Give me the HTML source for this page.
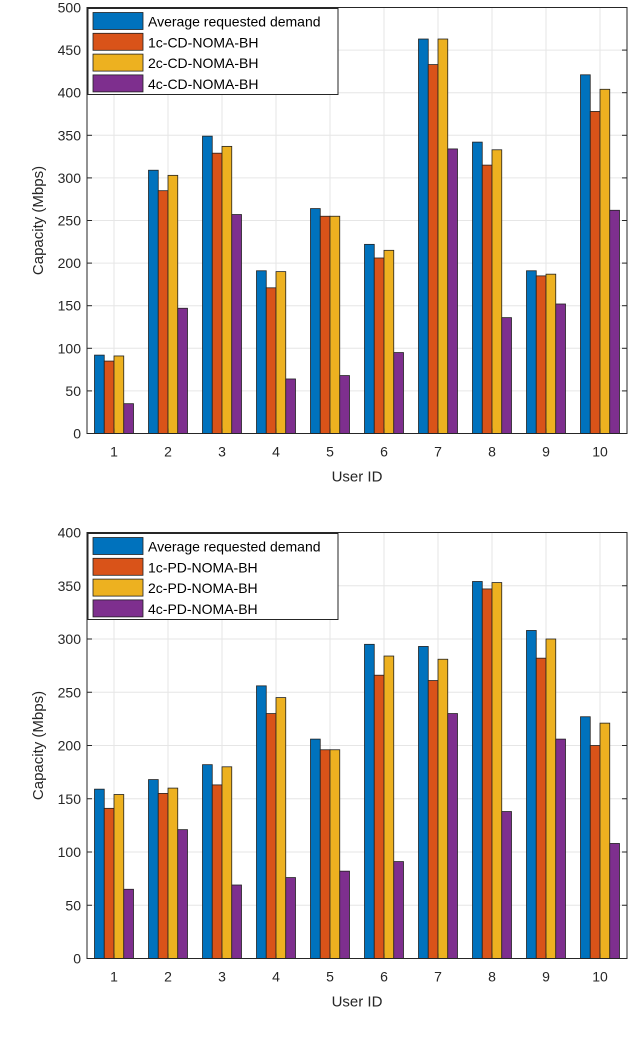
<!DOCTYPE html>
<html><head><meta charset="utf-8"><style>
body{margin:0;background:#fff;width:630px;height:1042px;overflow:hidden}
svg{display:block;font-family:"Liberation Sans",Arial,sans-serif}
</style></head><body>
<svg id="svg" width="630" height="1042"></svg>
<script>
const categories=["1","2","3","4","5","6","7","8","9","10"];
const seriesNamesTop=["Average requested demand","1c-CD-NOMA-BH","2c-CD-NOMA-BH","4c-CD-NOMA-BH"];
const seriesNamesBot=["Average requested demand","1c-PD-NOMA-BH","2c-PD-NOMA-BH","4c-PD-NOMA-BH"];
const topAvg=[92,309,349,191,264,222,463,342,191,421];
const top1c=[85,285,329,171,255,206,433,315,185,378];
const top2c=[91,303,337,190,255,215,463,333,187,404];
const top4c=[35,147,257,64,68,95,334,136,152,262];
const botAvg=[159,168,182,256,206,295,293,354,308,227];
const bot1c=[141,155,163,230,196,266,261,347,282,200];
const bot2c=[154,160,180,245,196,284,281,353,300,221];
const bot4c=[65,121,69,76,82,91,230,138,206,108];
const topTicks=[0,50,100,150,200,250,300,350,400,450,500];
const botTicks=[0,50,100,150,200,250,300,350,400];
const colors=["#0072BD","#D95319","#EDB120","#7E2F8E"];
const NS="http://www.w3.org/2000/svg";
const svg=document.getElementById('svg');
function mk(t,a,p){const e=document.createElementNS(NS,t);for(const k in a)e.setAttribute(k,a[k]);(p||svg).appendChild(e);return e;}
function chart(y0,y1,ymax,ticks,series,names,id){
  const L=87,R=627;
  const g=mk('g',{});
  
  
  const xs=i=>L+(i+0.5)*(R-L)/categories.length;
  const ys=v=>y1-(v/ymax)*(y1-y0);
  // grid
  ticks.forEach(t=>{const l=mk('line',{x1:L,x2:R,y1:ys(t),y2:ys(t),stroke:'#e6e6e6','stroke-width':1},g);
    });
  categories.forEach((c,i)=>{const l=mk('line',{x1:xs(i),x2:xs(i),y1:y0,y2:y1,stroke:'#e6e6e6','stroke-width':1},g);
    });
  const bw=9.75;
  series.forEach((s,si)=>{s.forEach((v,i)=>{
    const x=xs(i)-2*bw+si*bw;
    const r=mk('rect',{x:x,y:ys(v),width:bw,height:y1-ys(v),fill:colors[si],stroke:'#222','stroke-width':0.8},g);
    
    
  });});
  mk('rect',{x:L,y:y0,width:R-L,height:y1-y0,fill:'none',stroke:'#262626','stroke-width':1},g);
  ticks.forEach(t=>{
    mk('line',{x1:L,x2:L+5,y1:ys(t),y2:ys(t),stroke:'#262626'},g);
    mk('line',{x1:R,x2:R-5,y1:ys(t),y2:ys(t),stroke:'#262626'},g);
    const tx=mk('text',{x:L-6,y:ys(t)+5,'text-anchor':'end','font-size':14,fill:'#262626'},g);tx.textContent=t;
    
  });
  categories.forEach((c,i)=>{
    mk('line',{x1:xs(i),x2:xs(i),y1:y1,y2:y1-5,stroke:'#262626'},g);
    const tx=mk('text',{x:xs(i),y:y1+23,'text-anchor':'middle','font-size':14,fill:'#262626'},g);tx.textContent=c;
    
  });
  const xl=mk('text',{x:(L+R)/2,y:y1+48,'text-anchor':'middle','font-size':15,fill:'#262626'},g);xl.textContent='User ID';
  
  const yl=mk('text',{x:0,y:0,'text-anchor':'middle','font-size':15,fill:'#262626',transform:`translate(43,${(y0+y1)/2}) rotate(-90)`},g);yl.textContent='Capacity (Mbps)';
  
  // legend
  const lg=mk('g',{},g);
  
  mk('rect',{x:L+1,y:y0+1,width:250,height:86,fill:'#fff',stroke:'#262626','stroke-width':1},lg);
  names.forEach((n,k)=>{
    const yy=y0+5+k*20.8;
    mk('rect',{x:L+6,y:yy,width:50,height:17,fill:colors[k],stroke:'#222','stroke-width':0.8},lg);
    const t=mk('text',{x:L+61,y:yy+14,'font-size':14,fill:'#000'},lg);t.textContent=n;
    
  });
}
chart(7.5,433.5,500,topTicks,[topAvg,top1c,top2c,top4c],seriesNamesTop,'top-chart');
chart(532.5,958.5,400,botTicks,[botAvg,bot1c,bot2c,bot4c],seriesNamesBot,'bottom-chart');
</script>
</body></html>
